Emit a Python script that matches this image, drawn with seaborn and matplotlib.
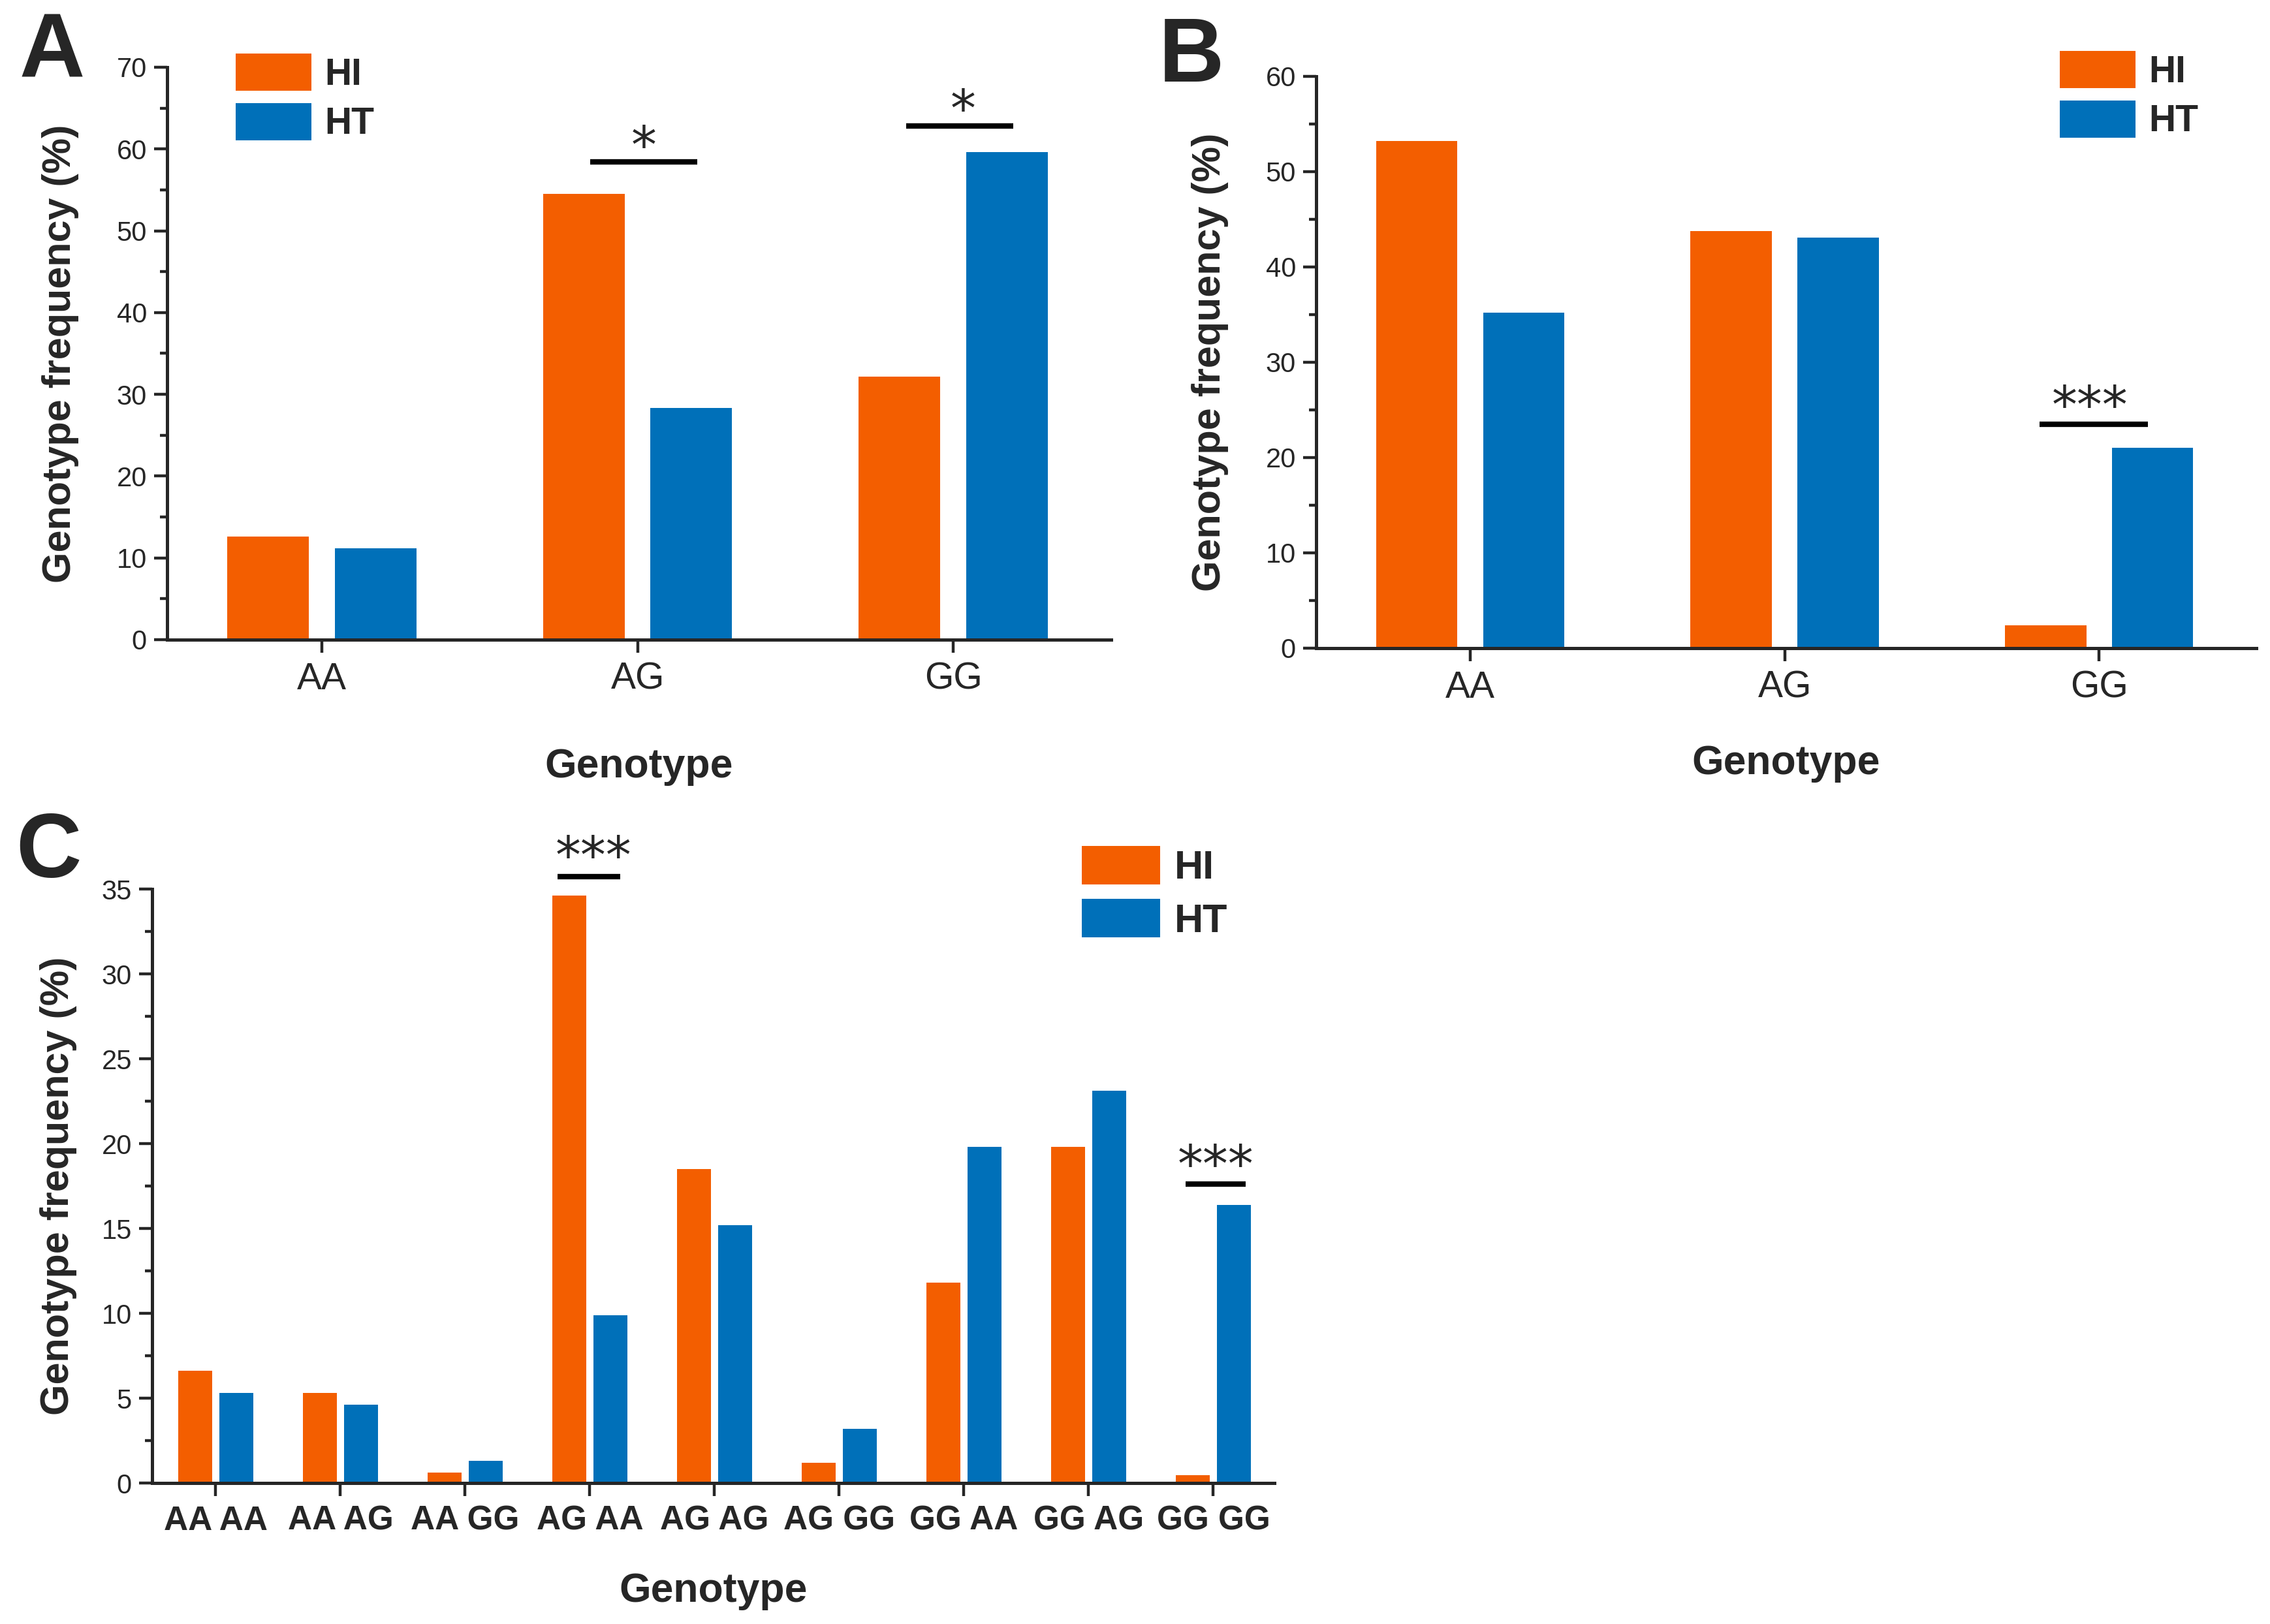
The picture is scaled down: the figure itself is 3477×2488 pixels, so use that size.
import numpy as np
import pandas as pd
import matplotlib
matplotlib.use("Agg")
import matplotlib.pyplot as plt
import seaborn as sns
from matplotlib.patches import Patch
from matplotlib.ticker import MultipleLocator

# ---------------- data ----------------
groups = ["HI", "HT"]
cat_ab = ["AA", "AG", "GG"]
a_hi = [12.6, 54.5, 32.2]
a_ht = [11.2, 28.3, 59.6]
b_hi = [53.2, 43.8, 2.4]
b_ht = [35.2, 43.1, 21.0]
cat_c = ["AA AA", "AA AG", "AA GG", "AG AA", "AG AG", "AG GG", "GG AA", "GG AG", "GG GG"]
c_hi = [6.6, 5.3, 0.6, 34.6, 18.5, 1.2, 11.8, 19.8, 0.45]
c_ht = [5.3, 4.6, 1.3, 9.9, 15.2, 3.2, 19.8, 23.1, 16.4]

# significance marks: (category, label)
sig_a = [("AG", "*"), ("GG", "*")]
sig_b = [("GG", "***")]
sig_c = [("AG AA", "***"), ("GG GG", "***")]

# ---------------- style ----------------
sns.set_style("ticks")
plt.rcParams["font.family"] = ["Liberation Sans", "DejaVu Sans"]
plt.rcParams["axes.linewidth"] = 1.8
plt.rcParams["xtick.major.width"] = 1.6
plt.rcParams["ytick.major.width"] = 1.6
plt.rcParams["ytick.minor.width"] = 1.6

palette = {"HI": "#F35E00", "HT": "#0070B9"}
DPI = 200
W, H = 3477, 2488
fig = plt.figure(figsize=(W / DPI, H / DPI), dpi=DPI)


def px_axes(left, top, right, bottom):
    return fig.add_axes([left / W, 1 - bottom / H, (right - left) / W, (bottom - top) / H])


def panel(ax, cats, hi, ht, width, gap, ytop, major, minor, xlim,
          xtick_size, xtick_bold, ylab_x, xlab_y):
    df = pd.DataFrame({
        "Genotype": cats * 2,
        "Frequency": hi + ht,
        "Group": [groups[0]] * len(cats) + [groups[1]] * len(cats),
    })
    sns.barplot(data=df, x="Genotype", y="Frequency", hue="Group",
                hue_order=groups, palette=palette, width=width, gap=gap,
                saturation=1, linewidth=0, legend=False, ax=ax, errorbar=None)
    ax.set_xlim(*xlim)
    ax.set_ylim(0, ytop)
    ax.yaxis.set_major_locator(MultipleLocator(major))
    ax.yaxis.set_minor_locator(MultipleLocator(minor))
    sns.despine(ax=ax)
    ax.tick_params(axis="y", which="major", length=7.2, width=1.6, pad=4, labelsize=15)
    ax.tick_params(axis="y", which="minor", length=4, width=1.6)
    ax.tick_params(axis="x", which="major", length=7.2, width=1.6, pad=5, labelsize=xtick_size)
    for t in ax.get_xticklabels():
        t.set_fontweight("bold" if xtick_bold else "normal")
    ax.set_ylabel("Genotype frequency (%)", fontsize=22, fontweight="bold")
    ax.set_xlabel("Genotype", fontsize=22.5, fontweight="bold")
    ax.yaxis.set_label_coords(ylab_x, 0.5)
    ax.xaxis.set_label_coords(0.5, xlab_y)
    ax.xaxis.label.set_verticalalignment("top")


def sig(ax, cats, cat, label, x0, x1, yline, ystar, dxstar=0.0, fs=28):
    i = cats.index(cat)
    ax.plot([i + x0, i + x1], [yline, yline], color="black", lw=3.0,
            solid_capstyle="butt", clip_on=False)
    ax.annotate(label, xy=(i + dxstar, ystar), xytext=(0, -0.55 * fs),
                textcoords="offset points", ha="center", va="baseline",
                fontsize=fs, family="DejaVu Sans", annotation_clip=False)


def legend(ax, x, y, fs, hl, hh, ls):
    handles = [Patch(facecolor=palette[g], edgecolor="none", label=g) for g in groups]
    fig.legend(handles=handles, loc="upper left", bbox_to_anchor=(x / W, 1 - y / H),
               bbox_transform=fig.transFigure, frameon=False, borderpad=0,
               borderaxespad=0, handlelength=hl, handleheight=hh,
               handletextpad=0.35, labelspacing=ls,
               prop={"size": fs, "weight": "bold"})


# ---------------- panel A ----------------
axA = px_axes(256, 103, 1702, 980)
panel(axA, cat_ab, a_hi, a_ht, 0.68, 0.24, 70, 10, 5, (-0.49, 2.5), 20.5, False,
      -0.0934, -0.188)
sig(axA, cat_ab, sig_a[0][0], sig_a[0][1], -0.15, 0.19, 58.4, 61.8, 0.02)
sig(axA, cat_ab, sig_a[1][0], sig_a[1][1], -0.15, 0.19, 62.8, 66.2, 0.03)
legend(axA, 361, 82, 20.5, 2.04, 1.16, 0.28)

# ---------------- panel B ----------------
axB = px_axes(2016, 117, 3456, 993)
panel(axB, cat_ab, b_hi, b_ht, 0.68, 0.24, 60, 10, 5, (-0.49, 2.5), 20.5, False,
      -0.093, -0.168)
sig(axB, cat_ab, sig_b[0][0], sig_b[0][1], -0.19, 0.155, 23.5, 26.6, -0.03)
legend(axB, 3155, 78, 20.5, 2.04, 1.16, 0.28)

# ---------------- panel C ----------------
axC = px_axes(233, 1362, 1952, 2272)
panel(axC, cat_c, c_hi, c_ht, 0.66, 0.18, 35, 5, 2.5, (-0.51, 8.49), 18.5, True,
      -0.067, -0.149)
sig(axC, cat_c, sig_c[0][0], sig_c[0][1], -0.26, 0.245, 35.75, 37.6, 0.03)
sig(axC, cat_c, sig_c[1][0], sig_c[1][1], -0.22, 0.26, 17.6, 19.4, 0.02)
legend(axC, 1657, 1296, 22, 1.97, 1.1, 0.3)

# ---------------- panel letters ----------------
for letter, x, y in [("A", 30, 119), ("B", 1775, 125), ("C", 24, 1344)]:
    fig.text(x / W, 1 - y / H, letter, fontsize=50, fontweight="bold",
             ha="left", va="baseline")

fig.savefig("out.png", dpi=DPI)
